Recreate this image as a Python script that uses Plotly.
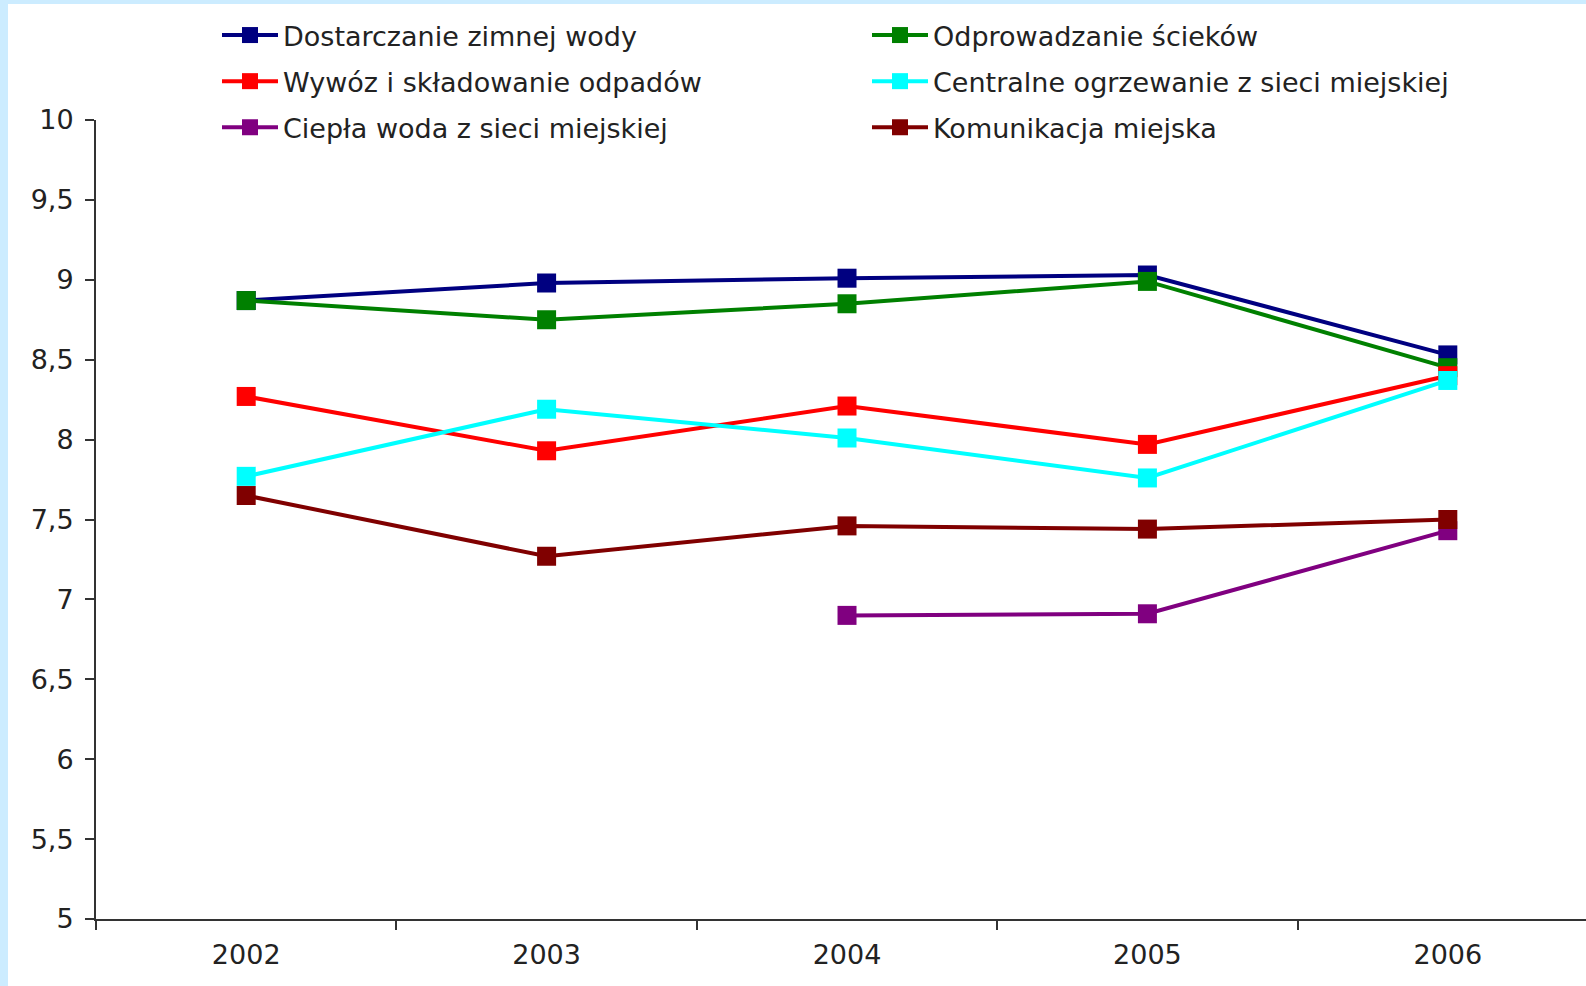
import plotly.graph_objects as go

# Survey years and average ratings of municipal services
years = ["2002", "2003", "2004", "2005", "2006"]

zimna_woda = [8.87, 8.98, 9.01, 9.03, 8.53]
scieki = [8.87, 8.75, 8.85, 8.99, 8.45]
odpady = [8.27, 7.93, 8.21, 7.97, 8.40]
ogrzewanie = [7.77, 8.19, 8.01, 7.76, 8.37]
ciepla_woda = [None, None, 6.90, 6.91, 7.43]
komunikacja = [7.65, 7.27, 7.46, 7.44, 7.50]

series = [
    ("Dostarczanie zimnej wody", zimna_woda, "#000080", "legend"),
    ("Odprowadzanie ścieków", scieki, "#008000", "legend2"),
    ("Wywóz i składowanie odpadów", odpady, "#FF0000", "legend"),
    ("Centralne ogrzewanie z sieci miejskiej", ogrzewanie, "#00FFFF", "legend2"),
    ("Ciepła woda z sieci miejskiej", ciepla_woda, "#800080", "legend"),
    ("Komunikacja miejska", komunikacja, "#800000", "legend2"),
]

FONT = "DejaVu Sans, Verdana, sans-serif"
TEXT = "#222222"
AXIS = "#333333"
FS = 27

# plot area in pixels
W_FIG, H_FIG = 1586, 986
L, T, R, B = 96, 120, 0, 67
PW = W_FIG - L - R
PH = H_FIG - T - B


def px_x(px):
    return (px - L) / PW


def px_y(py):
    return (T + PH - py) / PH


fig = go.Figure()
for i, (name, vals, color, leg) in enumerate(series):
    fig.add_trace(go.Scatter(
        x=years, y=vals, name=name, mode="lines+markers",
        line=dict(color=color, width=4),
        marker=dict(symbol="square", size=19, color=color),
        legend=leg, legendgroup=f"g{i}",
    ))

legend_common = dict(
    orientation="v", xanchor="left", yanchor="top",
    font=dict(family=FONT, size=FS, color=TEXT),
    bgcolor="rgba(0,0,0,0)", borderwidth=0,
    itemwidth=56, tracegroupgap=8, itemclick=False, itemdoubleclick=False,
)

fig.update_layout(
    width=W_FIG, height=H_FIG,
    margin=dict(l=L, r=R, t=T, b=B, pad=0, autoexpand=False),
    paper_bgcolor="white", plot_bgcolor="white",
    font=dict(family=FONT, size=FS, color=TEXT),
    separators=", ",
    legend=dict(x=px_x(217), y=px_y(11), **legend_common),
    legend2=dict(x=px_x(867), y=px_y(11), **legend_common),
    xaxis=dict(
        type="category", range=[-0.5, 4.46], tickson="boundaries",
        ticks="outside", ticklen=9, tickwidth=1.5, tickcolor=AXIS,
        showline=True, linecolor=AXIS, linewidth=2, showgrid=False,
        zeroline=False, automargin=False, ticklabelstandoff=11,
        tickfont=dict(family=FONT, size=FS, color=TEXT),
    ),
    yaxis=dict(
        range=[5, 10], dtick=0.5, tick0=5,
        ticks="outside", ticklen=9, tickwidth=1.5, tickcolor=AXIS,
        showline=True, linecolor=AXIS, linewidth=2, showgrid=False,
        zeroline=False, automargin=False, ticklabelstandoff=6,
        tickfont=dict(family=FONT, size=FS, color=TEXT),
    ),
    shapes=[
        dict(type="rect", xref="paper", yref="paper",
             x0=px_x(0), x1=px_x(8), y0=px_y(H_FIG), y1=px_y(0),
             fillcolor="#CCECFF", line=dict(width=0), layer="above"),
        dict(type="rect", xref="paper", yref="paper",
             x0=px_x(0), x1=px_x(W_FIG), y0=px_y(4), y1=px_y(0),
             fillcolor="#CCECFF", line=dict(width=0), layer="above"),
    ],
)

fig.write_html("out.html")
